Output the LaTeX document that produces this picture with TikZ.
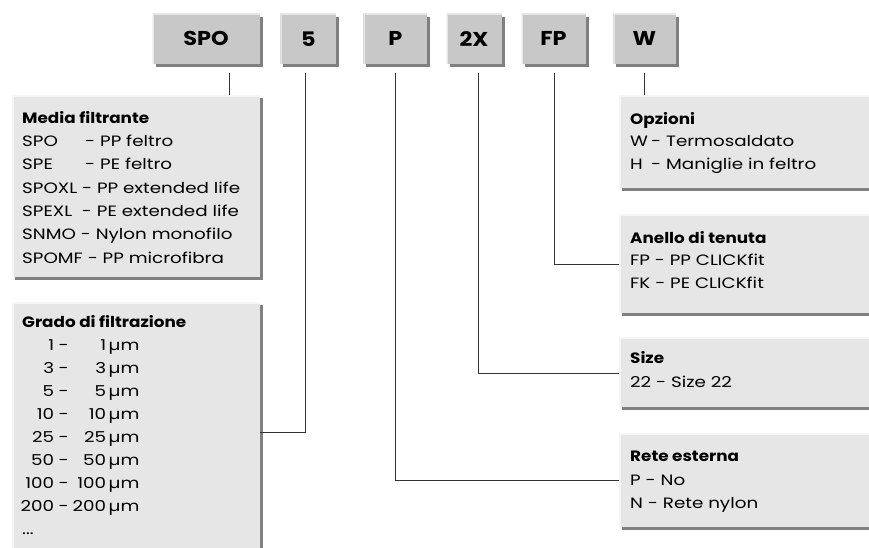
\documentclass[tikz,border=0pt]{standalone}
\usepackage{fontspec}
\setmainfont{Poppins}[FakeStretch=1.22, BoldFeatures={FakeStretch=1.12}]
\usetikzlibrary{shadows,calc}
\definecolor{topfill}{HTML}{C8C8C8}
\definecolor{boxfill}{HTML}{E6E6E6}
\definecolor{shade}{HTML}{808080}
\definecolor{linec}{HTML}{333333}
\begin{document}
\begin{tikzpicture}[x=1pt,y=-1pt,
  shd/.style={drop shadow={shadow xshift=3pt, shadow yshift=-3pt, fill=shade, opacity=1}},
  bevel/.style={path picture={\draw[line width=3pt, #1] (path picture bounding box.south west) -- (path picture bounding box.north west) -- (path picture bounding box.north east);}},
  topbox/.style={shd, fill=topfill, bevel=white!55!topfill, inner sep=0pt, minimum height=50.4pt, font=\fontsize{20}{23}\selectfont\bfseries},
  infobox/.style={shd, fill=boxfill, bevel=white!60!boxfill, inner sep=0pt},
  conn/.style={draw=linec, line width=0.75pt},
  ttl/.style={anchor=base west, inner sep=0pt, font=\fontsize{15}{18}\selectfont\bfseries},
  txt/.style={anchor=base west, inner sep=0pt, font=\fontsize{15}{18}\selectfont}]
\useasboundingbox (0,0) rectangle (869,547);
\fill[white] (0,0) rectangle (869,547);
% top code boxes
\node[topbox, minimum width=107pt] (spo) at (206,38.8) {SPO};
\node[topbox, minimum width=56pt] (five) at (308.4,38.8) {5};
\node[topbox, minimum width=64pt] (pp) at (395.4,38.8) {P};
\node[topbox, minimum width=55pt] (twox) at (474,38.8) {2X};
\node[topbox, minimum width=64pt] (fp) at (553.6,38.8) {FP};
\node[topbox, minimum width=62.5pt] (ww) at (644.5,38.8) {W};
% info boxes
\node[infobox, minimum width=248pt, minimum height=182pt] (media) at (136,186) {};
\node[infobox, minimum width=248pt, minimum height=268pt] (grado) at (136,436) {};
\node[infobox, minimum width=261pt, minimum height=93pt] (opz) at (749.5,141.5) {};
\node[infobox, minimum width=261pt, minimum height=99pt] (anello) at (749.5,263.5) {};
\node[infobox, minimum width=261pt, minimum height=70pt] (size) at (749.5,372) {};
\node[infobox, minimum width=261pt, minimum height=94pt] (rete) at (749.5,480) {};
% connectors
\coordinate (cSPO) at (229,72.5);
\coordinate (cFive) at (305,72.5);
\coordinate (cP) at (395,72.5);
\coordinate (cTwoX) at (478.6,72.5);
\coordinate (cFP) at (554,72.5);
\coordinate (cW) at (644.6,72.5);
\draw[conn] (cSPO) -- (cSPO |- media.north);
\draw[conn] (cFive) |- (grado.east |- 0,432);
\draw[conn] (cP) |- (rete.west |- 0,480);
\draw[conn] (cTwoX) |- (size.west |- 0,373);
\draw[conn] (cFP) |- (anello.west |- 0,264);
\draw[conn] (cW) -- (cW |- opz.north);
% Media filtrante
\node[ttl] (mediaT) at (22,123.3) {Media filtrante};
\foreach \t [count=\i] in {{\makebox[63pt][l]{SPO}- PP feltro},{\makebox[63pt][l]{SPE}- PE feltro},{SPOXL - PP extended life},{SPEXL\ \ - PE extended life},{SNMO - Nylon monofilo},{SPOMF - PP microfibra}}
  \node[txt] (media-\i) at (22,123.3+23.3*\i) {\t};
% Grado di filtrazione
\node[ttl] (gradoT) at (22,327) {Grado di filtrazione};
\foreach \n [count=\i] in {1,3,5,10,25,50,100,200}
  \node[txt] (grado-\i) at (21,327+23*\i) {\makebox[33pt][r]{\n}\makebox[19pt]{-}\makebox[33pt][r]{\n}\,µm};
\node[txt] (grado-dots) at (22,534) {...};
% Opzioni
\node[ttl] (opzT) at (630,124.3) {Opzioni};
\node[txt] (opz-1) at (630,146.9) {\makebox[21pt][l]{W}- Termosaldato};
\node[txt] (opz-2) at (630,169.5) {\makebox[21pt][l]{H}- Maniglie in feltro};
% Anello di tenuta
\node[ttl] (anelloT) at (630,243.3) {Anello di tenuta};
\node[txt] (anello-1) at (630,265.6) {FP - PP CLICKfit};
\node[txt] (anello-2) at (630,288) {FK - PE CLICKfit};
% Size
\node[ttl] (sizeT) at (630,363.3) {Size};
\node[txt] (size-1) at (630,387.7) {22 - Size 22};
% Rete esterna
\node[ttl] (reteT) at (630,461) {Rete esterna};
\node[txt] (rete-1) at (630,485) {P - No};
\node[txt] (rete-2) at (630,508) {N - Rete nylon};
\end{tikzpicture}
\end{document}
